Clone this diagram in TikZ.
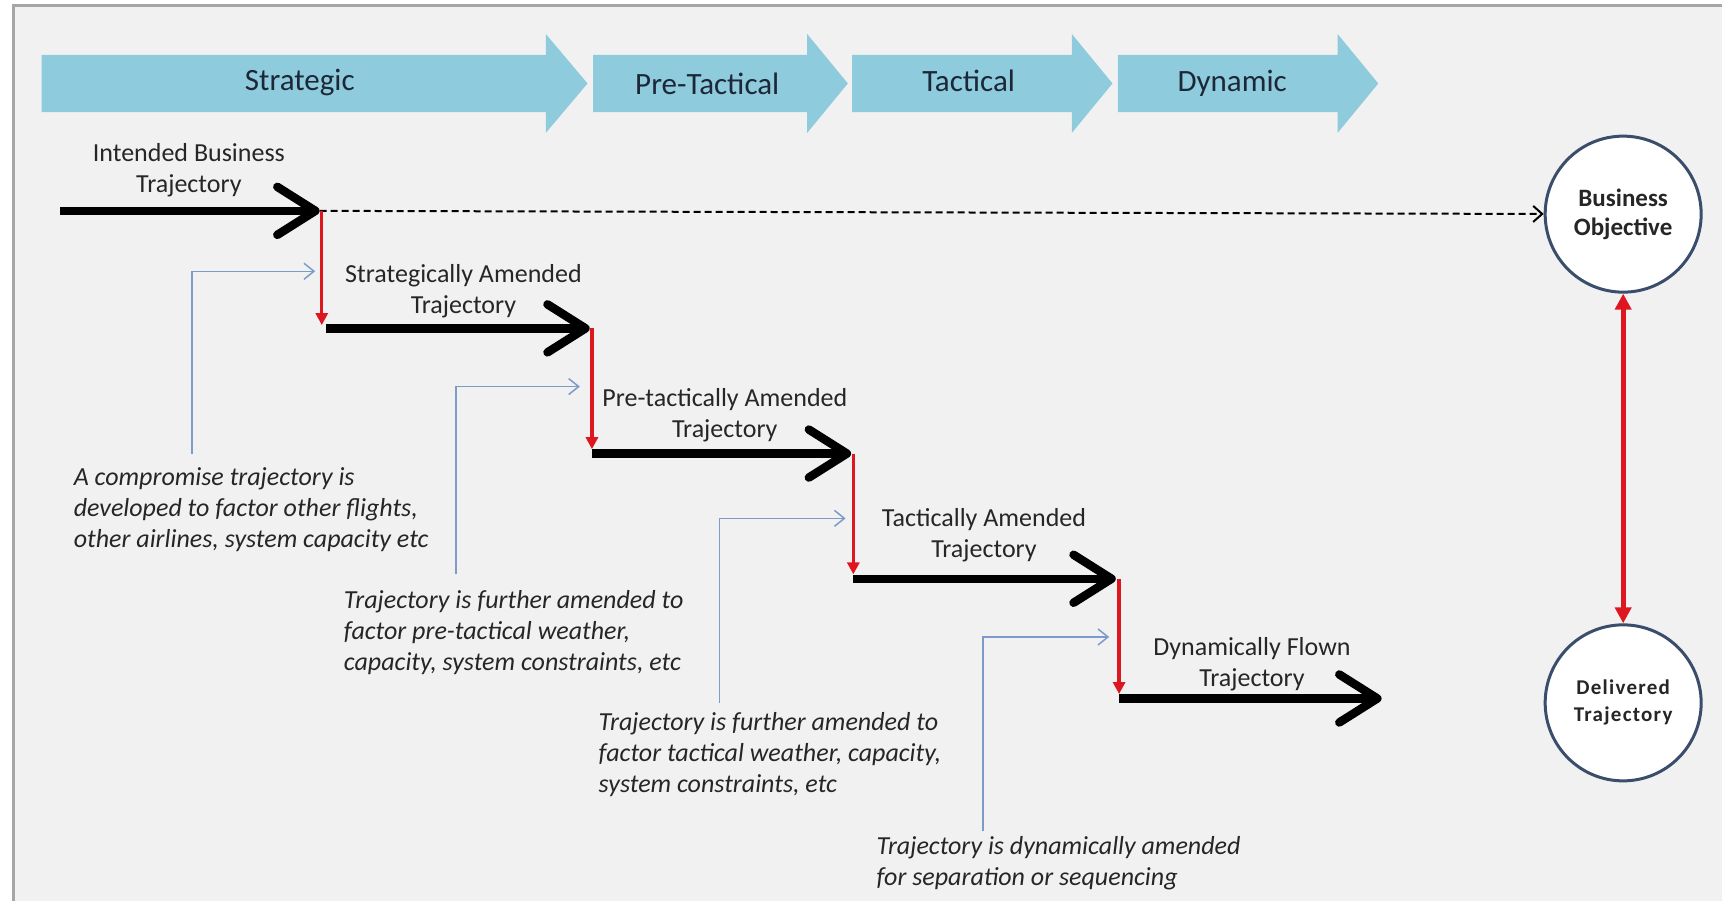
\documentclass[tikz,border=0pt]{standalone}
\usepackage{fontspec}
\setmainfont{Carlito}
\usetikzlibrary{arrows.meta}
\definecolor{bg}{RGB}{241,241,241}
\definecolor{chev}{RGB}{142,203,220}
\definecolor{calloutc}{RGB}{125,155,200}
\definecolor{redl}{RGB}{222,22,32}
\definecolor{circ}{RGB}{58,78,108}
\definecolor{txt}{RGB}{38,38,38}
\definecolor{chtxt}{RGB}{28,40,56}
\begin{document}
\begin{tikzpicture}[x=1.0982pt,y=-1.0982pt,
  traj/.style={line width=8.5pt, -{Straight Barb[length=38pt,width=48pt,round]}},
  redstep/.style={redl, line width=3.4pt, -{Triangle[length=12pt,width=12pt]}},
  calloutline/.style={calloutc, line width=1.5pt, -{Straight Barb[length=10pt,width=16pt]}},
  dashline/.style={black, line width=2pt, dash pattern=on 7pt off 4pt, -{Straight Barb[length=9pt,width=16pt]}},
  phase/.style={text=chtxt, font=\fontsize{31}{34}\selectfont, inner sep=0},
  lbl/.style={text=txt, font=\fontsize{26}{30.75}\selectfont, align=center, inner sep=0},
  note/.style={text=txt, font=\itshape\fontsize{26}{30.75}\selectfont, align=left, anchor=west, inner sep=0},
  goal/.style={circle, draw=circ, line width=3pt, fill=white, minimum size=156pt, inner sep=0, align=center, text=txt}
]
\useasboundingbox (0,0) rectangle (1568,820);
\fill[white] (0,0) rectangle (1568,820);
\fill[bg] (12,5) rectangle (1568,820);
\draw[black!35, line width=3pt] (12,820) -- (12,5) -- (1568,5);

% phase chevrons
\fill[chev] (38,50) -- (497,50) -- (497,31) -- (535,76) -- (497,121) -- (497,102) -- (38,102) -- cycle;
\fill[chev] (540,50) -- (735,50) -- (735,31) -- (772,76) -- (735,121) -- (735,102) -- (540,102) -- cycle;
\fill[chev] (776,50) -- (976,50) -- (976,31) -- (1013,76) -- (976,121) -- (976,102) -- (776,102) -- cycle;
\fill[chev] (1018,50) -- (1218,50) -- (1218,31) -- (1255,76) -- (1218,121) -- (1218,102) -- (1018,102) -- cycle;
\node[phase] (p1) at (273,75) {Strategic};
\node[phase] (p2) at (644,76) {Pre-Tactical};
\node[phase] (p3) at (882,74) {Tactical};
\node[phase] (p4) at (1122,76) {Dynamic};

% goal circles
\node[goal, font=\bfseries\fontsize{25}{29}\selectfont] (bo) at (1478,195) {Business\\Objective};
\node[goal, font=\bfseries\fontsize{21}{27}\selectfont\addfontfeatures{LetterSpace=6}] (dt) at (1478,640) {Delivered\\Trajectory};
\draw[redl, line width=5pt, {Triangle[length=16pt,width=16pt]}-{Triangle[length=16pt,width=16pt]}] (bo) -- (dt);

% trajectory steps
\coordinate (t0s) at (55,192);   \coordinate (t0e) at (291,192);
\coordinate (r1s) at (293,192);  \coordinate (r1e) at (293,296);
\coordinate (t1s) at (297,299);  \coordinate (t1e) at (537,299);
\coordinate (r2s) at (539,299);  \coordinate (r2e) at (539,409);
\coordinate (t2s) at (539,413);  \coordinate (t2e) at (775,413);
\coordinate (r3s) at (777,413);  \coordinate (r3e) at (777,523);
\coordinate (t3s) at (777,527);  \coordinate (t3e) at (1016,527);
\coordinate (r4s) at (1019,527); \coordinate (r4e) at (1019,632);
\coordinate (t4s) at (1019,636); \coordinate (t4e) at (1258,636);

\draw[dashline] (t0e) -- (bo);
\draw[redstep] (r1s) -- (r1e);
\draw[redstep] (r2s) -- (r2e);
\draw[redstep] (r3s) -- (r3e);
\draw[redstep] (r4s) -- (r4e);
\draw[traj] (t0s) -- (t0e);
\draw[traj] (t1s) -- (t1e);
\draw[traj] (t2s) -- (t2e);
\draw[traj] (t3s) -- (t3e);
\draw[traj] (t4s) -- (t4e);

\node[lbl] (l0) at (172,155) {Intended Business\\Trajectory};
\node[lbl] (l1) at (422,265) {Strategically Amended\\Trajectory};
\node[lbl] (l2) at (660,378) {Pre-tactically Amended\\Trajectory};
\node[lbl] (l3) at (896,487) {Tactically Amended\\Trajectory};
\node[lbl] (l4) at (1140,605) {Dynamically Flown\\Trajectory};

% callouts
\node[note] (n1) at (67,464) {A compromise trajectory is\\developed to factor other flights,\\other airlines, system capacity etc};
\node[note] (n2) at (313,576) {Trajectory is further amended to\\factor pre-tactical weather,\\capacity, system constraints, etc};
\node[note] (n3) at (545,687) {Trajectory is further amended to\\factor tactical weather, capacity,\\system constraints, etc};
\node[note] (n4) at (798,786) {Trajectory is dynamically amended\\for separation or sequencing};

\coordinate (c1a) at (175,413); \coordinate (c1b) at (287,247);
\coordinate (c2a) at (415,523); \coordinate (c2b) at (528,352);
\coordinate (c3a) at (655,640); \coordinate (c3b) at (770,472);
\coordinate (c4a) at (895,757); \coordinate (c4b) at (1010,580);
\draw[calloutline] (c1a) |- (c1b);
\draw[calloutline] (c2a) |- (c2b);
\draw[calloutline] (c3a) |- (c3b);
\draw[calloutline] (c4a) |- (c4b);
\end{tikzpicture}
\end{document}
